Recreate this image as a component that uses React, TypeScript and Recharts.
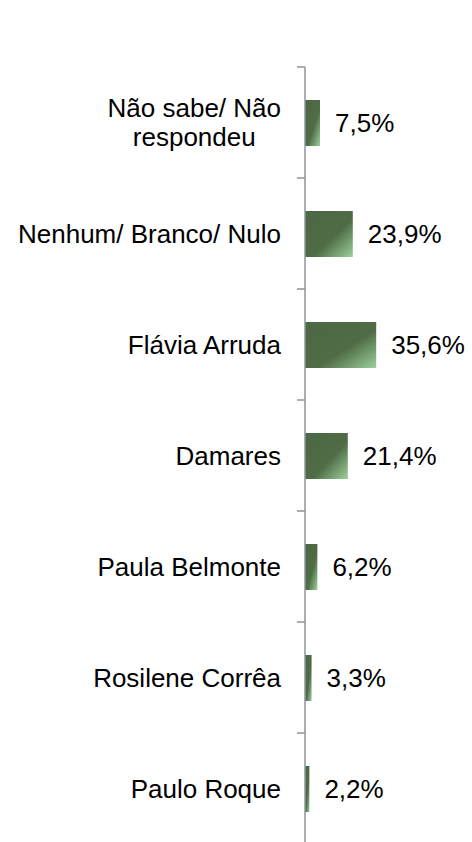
import { BarChart, Bar, XAxis, YAxis, LabelList } from 'recharts'

const categories = ['Não sabe/ Não\nrespondeu', 'Nenhum/ Branco/ Nulo', 'Flávia Arruda', 'Damares', 'Paula Belmonte', 'Rosilene Corrêa', 'Paulo Roque']
const values = [7.5, 23.9, 35.6, 21.4, 6.2, 3.3, 2.2]

const FONT = '"Liberation Sans", Arial, sans-serif'
const AXIS_COLOR = '#8e949c'

const data = categories.map((name, i) => ({ name, value: values[i] }))

const fmtPct = (v: number) => `${v.toFixed(1).replace('.', ',')}%`

let ctx: CanvasRenderingContext2D | null = null
function textWidth(s: string) {
  if (!ctx) ctx = document.createElement('canvas').getContext('2d')
  if (!ctx) return s.length * 13
  ctx.font = `26px ${FONT}`
  return ctx.measureText(s).width
}

function CategoryTick(props: any) {
  const { x, y, payload, index } = props
  const half = payload.offset ?? 0
  const lines = String(payload.value).split('\n')
  const blockW = Math.max(...lines.map(textWidth))
  const lh = 29
  const axisX = x + 24
  return (
    <g>
      <line x1={axisX - 8} x2={axisX} y1={y - half} y2={y - half} stroke={AXIS_COLOR} strokeWidth={1.5} />
      {index === categories.length - 1 && (
        <line x1={axisX - 8} x2={axisX} y1={y + half} y2={y + half} stroke={AXIS_COLOR} strokeWidth={1.5} />
      )}
      <text
        x={lines.length > 1 ? x - blockW / 2 : x}
        y={y}
        textAnchor={lines.length > 1 ? 'middle' : 'end'}
        fontSize={26}
        fontFamily={FONT}
        fill="#000"
      >
        {lines.map((l, i) => (
          <tspan key={i} x={lines.length > 1 ? x - blockW / 2 : x} y={y + (i - (lines.length - 1) / 2) * lh} dominantBaseline="central">
            {l}
          </tspan>
        ))}
      </text>
    </g>
  )
}

export default function App() {
  return (
    <div style={{ position: 'absolute', left: 0, top: 0, background: '#fff' }}>
      <BarChart
        width={472}
        height={860}
        data={data}
        layout="vertical"
        margin={{ top: 67, right: 87, bottom: 16, left: 0 }}
      >
        <defs>
          <linearGradient id="barGrad" x1="0" y1="0" x2="1" y2="1">
            <stop offset="0%" stopColor="#4d6844" />
            <stop offset="58%" stopColor="#4f6c46" />
            <stop offset="100%" stopColor="#9dd09c" />
          </linearGradient>
        </defs>
        <XAxis type="number" domain={[0, 40]} hide />
        <YAxis
          type="category"
          dataKey="name"
          width={305}
          tickLine={false}
          tickSize={0}
          tickMargin={24}
          axisLine={{ stroke: AXIS_COLOR, strokeWidth: 1.5 }}
          tick={<CategoryTick />}
          interval={0}
        />
        <Bar dataKey="value" fill="url(#barGrad)" barSize={46} isAnimationActive={false}>
          <LabelList
            dataKey="value"
            position="right"
            offset={15}
            formatter={(v: any) => fmtPct(Number(v))}
            style={{ fontSize: 26, fontFamily: FONT, fill: '#000' }}
          />
        </Bar>
      </BarChart>
    </div>
  )
}
